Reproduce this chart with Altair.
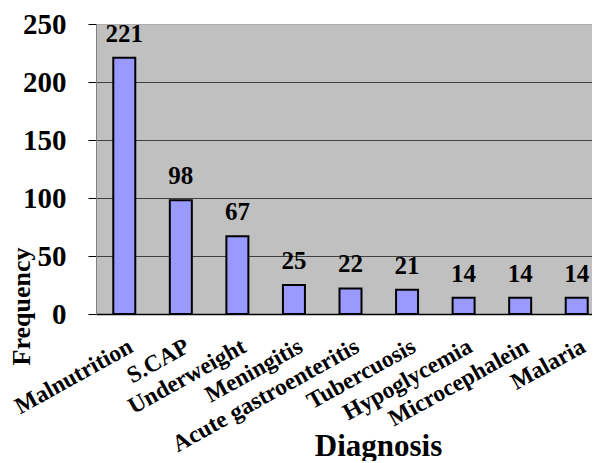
import altair as alt
import pandas as pd

categories = ["Malnutrition", "S.CAP", "Underweight", "Meningitis", "Acute gastroenteritis",
              "Tubercuosis", "Hypoglycemia", "Microcephalein", "Malaria"]
values = [221, 98, 67, 25, 22, 21, 14, 14, 14]
y_ticks = [0, 50, 100, 150, 200, 250]

df = pd.DataFrame({"Diagnosis": categories, "Frequency": values})
FONT = "Liberation Serif, Times New Roman, DejaVu Serif, serif"

x_enc = alt.X("Diagnosis:N", sort=None,
              scale=alt.Scale(range=[0, 509], paddingInner=0, paddingOuter=0),
              axis=alt.Axis(title="Diagnosis", labelAngle=-29, labelAlign="right",
                            labelBaseline="top", labelPadding=20, labelOffset=1,
                            labelFont=FONT,
                            labelFontSize=23.5, labelFontWeight="bold", labelColor="black",
                            ticks=False, domainColor="black", domainWidth=1.5,
                            titleFont=FONT, titleFontSize=31, titleFontWeight="bold",
                            titleColor="black", titleX=282, titleY=141,
                            titleAlign="center", titleBaseline="alphabetic",
                            labelOverlap=False, labelLimit=400))

y_enc = alt.Y("Frequency:Q", scale=alt.Scale(domain=[0, 250], nice=False),
              axis=alt.Axis(title="Frequency", values=y_ticks, labelFont=FONT,
                            labelFontSize=29, labelFontWeight="bold", labelColor="black",
                            labelPadding=22, tickSize=8, tickColor="black",
                            domainColor="#808080", domainWidth=1,
                            gridColor={"condition": {"test": "datum.value == 250", "value": "#9a9a9a"}, "value": "#404040"},
                            gridDash={"condition": {"test": "datum.value == 250", "value": [1, 1]}, "value": []},
                            gridWidth=1,
                            titleFont=FONT, titleFontSize=26, titleFontWeight="bold",
                            titleColor="black", titleAngle=270, titleX=-67, titleY=282,
                            titleAlign="center", titleBaseline="alphabetic"))

bars = alt.Chart(df).mark_bar(size=22, color="#9999FF", stroke="black",
                              strokeWidth=2).encode(x=x_enc, y=y_enc)

labels = alt.Chart(df).mark_text(font=FONT, fontSize=25, fontWeight="bold",
                                 color="black", baseline="alphabetic", dy=-16).encode(
    x=alt.X("Diagnosis:N", sort=None), y="Frequency:Q", text="Frequency:Q")

chart = alt.layer(bars, labels).properties(
    width=496, height=290,
    autosize=alt.AutoSizeParams(type="none"),
    padding={"left": 88, "top": 16, "right": 0, "bottom": 147},
).configure(background="white").configure_view(fill="#C0C0C0", stroke=None)

chart.save("out.html", embed_options={"renderer": "svg", "actions": False})
